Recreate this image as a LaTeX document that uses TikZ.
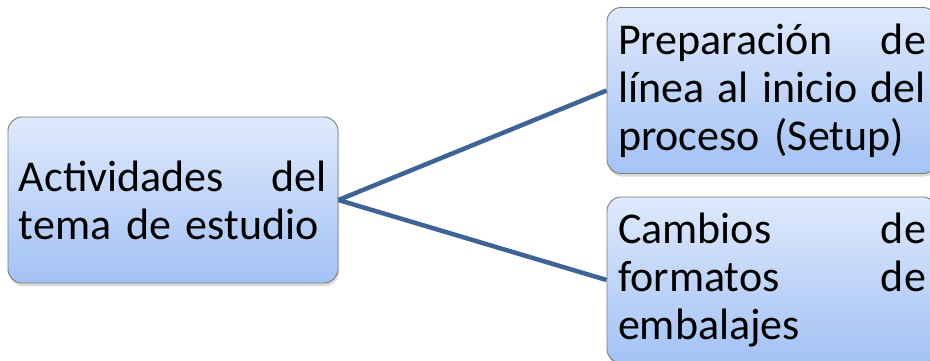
\documentclass[tikz,border=0pt]{standalone}
\usepackage{fontspec}
\setmainfont{Carlito}
\usetikzlibrary{shadows}
\definecolor{boxtop}{RGB}{222,233,252}
\definecolor{boxbot}{RGB}{163,194,245}
\definecolor{boxline}{RGB}{125,125,125}
\definecolor{linkblue}{RGB}{62,100,150}
% a justified line: words spread over the full text width with \hfill
\newcommand\fullline[1]{\leavevmode\hbox to\hsize{#1}}
\begin{document}
\begin{tikzpicture}[x=1pt,y=-1pt,
  topic/.style={draw=boxline, line width=0.9pt, rounded corners=14pt,
    top color=boxtop, bottom color=boxbot, align=left,
    text width=308pt, inner xsep=11pt, inner ysep=0pt,
    minimum height=166pt,
    font=\fontsize{44}{48}\selectfont,
    drop shadow={opacity=0.3, shadow xshift=1pt, shadow yshift=-3pt}},
  link/.style={draw=linkblue, line width=4.5pt}]
\useasboundingbox (0,0) rectangle (930,361);
\clip (0,0) rectangle (930,361);
\node[topic] (act) at (173,200)
  {\fullline{Actividades\hfill del}\\tema de estudio};
\node[topic] (prep) at (772,90.5)
  {\fullline{Preparación\hfill de}\\\fullline{línea\hfill al\hfill inicio\hfill del}\\proceso (Setup)};
\node[topic] (camb) at (772,280)
  {\fullline{Cambios\hfill de}\\\fullline{formatos\hfill de}\\embalajes};
\draw[link] (act.east) -- (prep.west);
\draw[link] (act.east) -- (camb.west);
\end{tikzpicture}
\end{document}
